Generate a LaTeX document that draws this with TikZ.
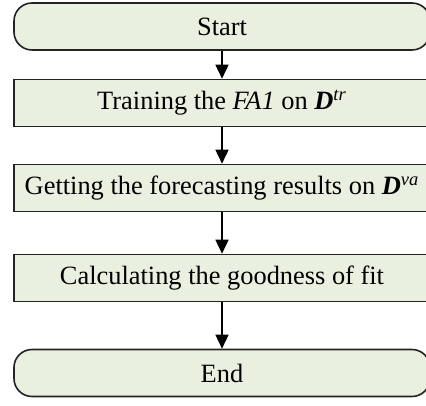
\documentclass[tikz,border=0pt]{standalone}
\usepackage{fontspec}
\setmainfont{Liberation Serif}
\usepackage{tikz}
\usetikzlibrary{positioning, shapes, arrows.meta, calc}
\definecolor{BoxGreen}{RGB}{233, 240, 223}
\definecolor{EdgeGray}{RGB}{35, 35, 35}

\tikzset{
    stepbox/.style={draw=EdgeGray, fill=BoxGreen, line width=0.8pt, minimum width=208pt,
        minimum height=23.5pt, inner sep=0pt, font=\fontsize{13.2}{15}\selectfont},
    termbox/.style={stepbox, rounded corners=9pt},
    flow/.style={-{Triangle[length=7pt, width=6.5pt]}, line width=0.8pt, black}
}

\begin{document}
\begin{tikzpicture}[x=0.5pt, y=0.5pt]
    \useasboundingbox (0,0) rectangle (426,405);

    % Terminals and steps
    \node[termbox] (start) at (222, 378.5) {Start};
    \node[stepbox] (train) at (222, 302) {Training the \textit{FA1} on \textbf{\textit{D}}\textsuperscript{\textit{tr}}};
    \node[stepbox] (fore) at (222, 217) {Getting the forecasting results on \textbf{\textit{D}}\textsuperscript{\textit{va}}};
    \node[stepbox] (fit) at (222, 127) {Calculating the goodness of fit};
    \node[termbox] (end) at (222, 32) {End};

    % Arrows
    \draw[flow] (start) -- (train);
    \draw[flow] (train) -- (fore);
    \draw[flow] (fore) -- (fit);
    \draw[flow] (fit) -- (end);
\end{tikzpicture}
\end{document}
